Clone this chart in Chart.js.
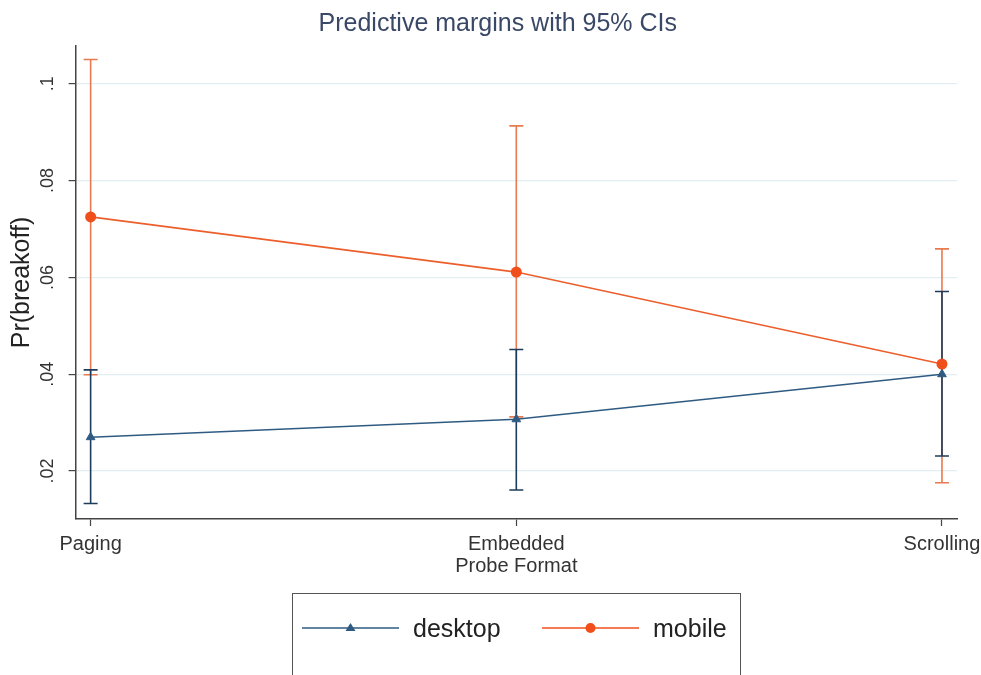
<!DOCTYPE html>
<html lang="en">
<head>
  <meta charset="UTF-8">
  <title>Predictive margins with 95% CIs</title>
  <style>
  html, body {
    margin: 0;
    padding: 0;
    background: #ffffff;
    overflow: hidden;
  }
  .wrap {
    position: relative;
    width: 981px;
    height: 675px;
  }
  .legend-box {
    position: absolute;
    left: 292px;
    top: 593px;
    width: 447px;
    height: 120px;
    border: 1.5px solid #555;
    font-family: Arial, "Liberation Sans", sans-serif;
    font-size: 25px;
    color: #222;
  }
  .legend-item {
    position: absolute;
    top: 20px;
    display: flex;
    align-items: center;
    height: 28px;
  }
  .legend-item canvas {
    margin-right: 14px;
  }
  </style>
  <script src="https://cdn.jsdelivr.net/npm/chart.js"></script>
</head>
<body>
  <div class="wrap">
    <canvas id="chart" width="981" height="675"></canvas>
    <div class="legend-box">
      <div class="legend-item" style="left: 9px;"><canvas id="key-desktop" width="97" height="20"></canvas><span>desktop</span></div>
      <div class="legend-item" style="left: 249px;"><canvas id="key-mobile" width="97" height="20"></canvas><span>mobile</span></div>
    </div>
  </div>

  <script>
    // categories on the x axis
    const formats = ['Paging', 'Embedded', 'Scrolling'];
    const yTicks = [0.02, 0.04, 0.06, 0.08, 0.1];

    // predicted margins and 95% CI bounds
    const desktop = [0.0270, 0.0307, 0.0400];
    const desktopLo = [0.0133, 0.0161, 0.0231];
    const desktopHi = [0.0409, 0.0451, 0.0571];
    const mobile = [0.0725, 0.0611, 0.0421];
    const mobileLo = [0.0399, 0.0312, 0.0176];
    const mobileHi = [0.1050, 0.0913, 0.0659];

    const navy = '#2f5b82';
    const navyDark = '#1d3b5a';
    const orange = '#ec5f2c';
    const orangeBar = '#e9794e';

    // build point lists for the line series
    function pts(vals) {
      return vals.map((v, i) => ({ x: i, y: v }));
    }

    // build CI segments: lo, hi, gap
    function ciPts(lo, hi) {
      const out = [];
      lo.forEach((l, i) => {
        out.push({ x: i, y: l });
        out.push({ x: i, y: hi[i] });
        out.push({ x: i, y: null });
      });
      return out;
    }

    const ctx = document.getElementById('chart');
    new Chart(ctx, {
      type: 'line',
      data: {
        datasets: [
          {
            label: 'mobile CI',
            data: ciPts(mobileLo, mobileHi),
            borderColor: orangeBar,
            borderWidth: 1.6,
            pointStyle: 'line',
            pointRadius: 7,
            pointBorderWidth: 1.6,
            pointBorderColor: orangeBar,
            spanGaps: false,
            order: 4
          },
          {
            label: 'desktop CI',
            data: ciPts(desktopLo, desktopHi),
            borderColor: navyDark,
            borderWidth: 1.6,
            pointStyle: 'line',
            pointRadius: 7,
            pointBorderWidth: 1.6,
            pointBorderColor: navyDark,
            spanGaps: false,
            order: 3
          },
          {
            label: 'desktop',
            data: pts(desktop),
            borderColor: navy,
            backgroundColor: navy,
            borderWidth: 1.6,
            pointStyle: 'triangle',
            pointRadius: 5,
            pointBorderWidth: 1,
            order: 2
          },
          {
            label: 'mobile',
            data: pts(mobile),
            borderColor: orange,
            backgroundColor: '#f04e1a',
            borderWidth: 1.6,
            pointStyle: 'circle',
            pointRadius: 5.5,
            pointBorderWidth: 0,
            order: 1
          }
        ]
      },
      options: {
        responsive: false,
        animation: false,
        layout: { padding: { left: 14.5, right: 0, top: 0, bottom: 95 } },
        plugins: {
          legend: { display: false },
          tooltip: { enabled: false },
          title: {
            display: true,
            text: 'Predictive margins with 95% CIs',
            color: '#3a4868',
            font: { family: 'Arial', size: 25, weight: 'normal' },
            padding: { top: 9, bottom: 7 }
          }
        },
        scales: {
          x: {
            type: 'linear',
            min: -0.0353,
            max: 2.0353,
            afterBuildTicks: (scale) => {
              scale.ticks = formats.map((_, i) => ({ value: i }));
            },
            // let the last label run past the plot edge, as in the original
            afterFit: (scale) => {
              scale.paddingRight = 24;
            },
            ticks: {
              callback: (v) => formats[v],
              color: '#333',
              font: { family: 'Arial', size: 20, lineHeight: 1 },
              padding: 8,
              maxRotation: 0
            },
            grid: {
              drawOnChartArea: false,
              drawTicks: true,
              tickLength: 7,
              tickColor: '#444',
              tickWidth: 1.2
            },
            border: { color: '#444', width: 1.5 },
            title: {
              display: true,
              text: 'Probe Format',
              color: '#333',
              font: { family: 'Arial', size: 20, lineHeight: 1 },
              padding: { top: -6, bottom: 4 }
            }
          },
          y: {
            min: 0.0101,
            max: 0.1078,
            afterBuildTicks: (scale) => {
              scale.ticks = yTicks.map((v) => ({ value: v }));
            },
            ticks: {
              callback: (v) => String(v).replace(/^0/, ''),
              minRotation: 90,
              maxRotation: 90,
              crossAlign: 'center',
              color: '#333',
              font: { family: 'Arial', size: 18 },
              padding: 8
            },
            grid: {
              color: '#e3eef2',
              lineWidth: 1.2,
              drawTicks: true,
              tickLength: 7,
              tickColor: '#444',
              tickWidth: 1.2
            },
            border: { color: '#444', width: 1.5 },
            title: {
              display: true,
              text: 'Pr(breakoff)',
              color: '#222',
              font: { family: 'Arial', size: 25, lineHeight: 0.6 },
              padding: { top: 0, bottom: 1.5 }
            }
          }
        }
      }
    });

    // legend keys: a line with the series marker in the middle
    function drawKey(id, color, marker) {
      const c = document.getElementById(id).getContext('2d');
      c.strokeStyle = color;
      c.lineWidth = 1.6;
      c.beginPath();
      c.moveTo(0, 10);
      c.lineTo(97, 10);
      c.stroke();
      c.fillStyle = color;
      c.beginPath();
      if (marker === 'triangle') {
        c.moveTo(48.5, 5);
        c.lineTo(53.5, 13);
        c.lineTo(43.5, 13);
      } else {
        c.arc(48.5, 10, 5, 0, Math.PI * 2);
      }
      c.closePath();
      c.fill();
    }
    drawKey('key-desktop', navy, 'triangle');
    drawKey('key-mobile', '#f04e1a', 'circle');
  </script>
</body>
</html>
